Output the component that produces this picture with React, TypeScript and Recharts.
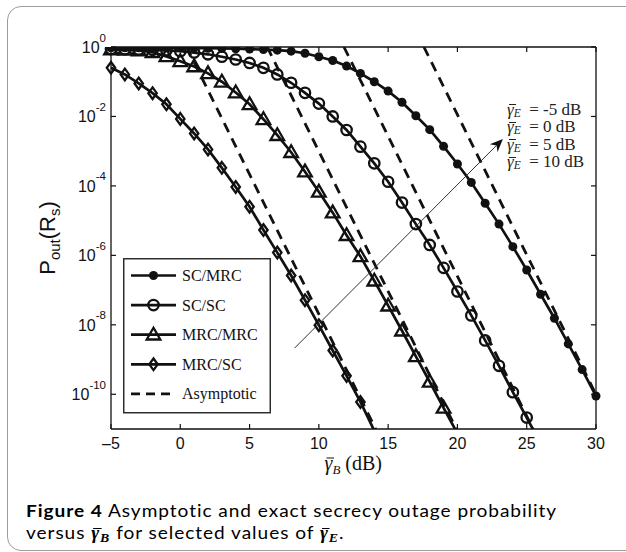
import React from 'react';
import { LineChart, Line, XAxis, YAxis, ReferenceLine, Legend } from 'recharts';

// average SNR of Bob, one exact-curve marker per dB
const snrDb = [-5, -4, -3, -2, -1, 0, 1, 2, 3, 4, 5, 6, 7, 8, 9, 10, 11, 12, 13, 14, 15, 16, 17, 18, 19, 20, 21, 22, 23, 24, 25, 26, 27, 28, 29, 30];

// log10 of P_out(R_s) (null = curve already left the axes)
const scMrcLog = [-0.02, -0.02, -0.02, -0.02, -0.02, -0.025, -0.03, -0.035, -0.04, -0.05, -0.06, -0.075, -0.09, -0.12, -0.18, -0.28, -0.39, -0.55, -0.76, -1.0, -1.27, -1.59, -1.98, -2.38, -2.86, -3.37, -3.9, -4.5, -5.1, -5.75, -6.42, -7.12, -7.81, -8.55, -9.29, -10.05];
const scScLog = [-0.06, -0.065, -0.07, -0.08, -0.095, -0.12, -0.16, -0.21, -0.28, -0.36, -0.46, -0.6, -0.79, -1.03, -1.32, -1.63, -2.0, -2.39, -2.87, -3.35, -3.88, -4.48, -5.1, -5.7, -6.36, -7.04, -7.73, -8.45, -9.18, -9.94, -10.67, -11.42, null, null, null, null];
const mrcMrcLog = [-0.07, -0.08, -0.1, -0.15, -0.27, -0.41, -0.56, -0.76, -1.0, -1.31, -1.65, -2.08, -2.54, -3.03, -3.59, -4.17, -4.77, -5.42, -6.03, -6.73, -7.45, -8.17, -8.91, -9.64, -10.39, -11.13, null, null, null, null, null, null, null, null, null, null];
const mrcScLog = [-0.6, -0.79, -1.05, -1.33, -1.65, -2.07, -2.49, -2.95, -3.48, -4.03, -4.6, -5.27, -5.92, -6.58, -7.29, -8.01, -8.74, -9.47, -10.22, -11.05, null, null, null, null, null, null, null, null, null, null, null, null, null, null, null, null];

// dashed asymptotes: end points (dB, log10 P), same order as the schemes
const asymSnr = [[17.58, 30], [11.81, 25.46], [6.27, 19.92], [0.45, 14.1]];
const asymLog = [[0, -10.01], [0, -11], [0, -11], [0, -11]];

const schemeNames = ['SC/MRC', 'SC/SC', 'MRC/MRC', 'MRC/SC'];
const schemeKeys = ['scMrc', 'scSc', 'mrcMrc', 'mrcSc'];
const schemeMarkers = ['dot', 'circle', 'triangle', 'diamond'];
const asymName = 'Asymptotic';

const eveSnrDb = ['-5', '0', '5', '10'];
// thin arrow across the curves: tail and head (dB, log10 P)
const arrowSnr = [8.25, 23.28];
const arrowLog = [-8.67, -2.65];

const xTicks = [-5, 0, 5, 10, 15, 20, 25, 30];
const yTicks = [1, 1e-2, 1e-4, 1e-6, 1e-8, 1e-10];
const X_MIN = -5;
const X_MAX = 30;
const Y_MIN = 1e-11;
const Y_MAX = 1;

const toP = (v: number | null) => (v == null ? null : Math.pow(10, v));

const rows = snrDb.map((x, i) => ({
  x,
  scMrc: toP(scMrcLog[i]),
  scSc: toP(scScLog[i]),
  mrcMrc: toP(mrcMrcLog[i]),
  mrcSc: toP(mrcScLog[i]),
}));

const asymRows = asymSnr.map((xs, i) => xs.map((x, j) => ({ x, p: toP(asymLog[i][j]) })));

// chart box: plot area ends up at x 111..596, y 47..429
const CHART_W = 626;
const CHART_H = 552;
const MARGIN = { top: 47, right: 30, bottom: 122, left: 110 };
const PLOT_W = CHART_W - MARGIN.left - MARGIN.right - 1;
const PLOT_H = CHART_H - MARGIN.top - MARGIN.bottom - 1;

const INK = '#111';
const SANS = '"Liberation Sans", Arial, sans-serif';
const SERIF = '"Liberation Serif", "Times New Roman", serif';

const Marker = ({ kind, cx, cy }: { kind: string; cx: number; cy: number }) => {
  if (kind === 'dot') return <circle cx={cx} cy={cy} r={4.5} fill={INK} />;
  if (kind === 'circle')
    return <circle cx={cx} cy={cy} r={5.2} fill="none" stroke={INK} strokeWidth={2.3} />;
  if (kind === 'triangle')
    return (
      <path
        d={`M${cx},${cy - 7} L${cx + 6.8},${cy + 4.8} L${cx - 6.8},${cy + 4.8} Z`}
        fill="none"
        stroke={INK}
        strokeWidth={2.3}
      />
    );
  return (
    <path
      d={`M${cx},${cy - 5.8} L${cx + 4.2},${cy} L${cx},${cy + 5.8} L${cx - 4.2},${cy} Z`}
      fill="none"
      stroke={INK}
      strokeWidth={2.3}
    />
  );
};

const makeDot = (kind: string) => (p: any) => {
  const k = `${kind}-${p.index}`;
  if (p.cx == null || p.cy == null || p.value == null || p.value < Y_MIN) return <g key={k} />;
  return <Marker key={k} kind={kind} cx={p.cx} cy={p.cy} />;
};

// bottom tick with its label, plus the matching inward tick on the top edge
const BottomTick = ({ x, y, payload }: any) => {
  const v = payload.value;
  return (
    <g>
      <line x1={x} y1={y} x2={x} y2={y - 5} stroke={INK} strokeWidth={1.2} />
      <line x1={x} y1={y - PLOT_H} x2={x} y2={y - PLOT_H + 5} stroke={INK} strokeWidth={1.2} />
      <text x={x} y={y + 20} textAnchor="middle" fontSize={16} fontFamily={SANS} fill={INK}>
        {v < 0 ? `\u2013${-v}` : v}
      </text>
    </g>
  );
};

// left tick with its 10^n label, plus the matching inward tick on the right edge
const LeftTick = ({ x, y, payload }: any) => {
  const exp = Math.round(Math.log10(payload.value));
  return (
    <g>
      <line x1={x} y1={y} x2={x + 5} y2={y} stroke={INK} strokeWidth={1.2} />
      <line x1={x + PLOT_W} y1={y} x2={x + PLOT_W - 5} y2={y} stroke={INK} strokeWidth={1.2} />
      <text x={x - 5} y={y + 6} textAnchor="end" fontSize={16} fontFamily={SANS} fill={INK}>
        10
        <tspan dy={-11.5} fontSize={11.5}>
          {exp}
        </tspan>
      </text>
    </g>
  );
};

const YLabel = ({ viewBox }: any) => {
  const x = viewBox.x + viewBox.width - 56;
  const y = viewBox.y + viewBox.height / 2;
  return (
    <text x={x} y={y} transform={`rotate(-90, ${x}, ${y})`} textAnchor="middle" fontSize={22} fontFamily={SANS} fill={INK}>
      P
      <tspan dy={5} fontSize={15}>out</tspan>
      <tspan dy={-5}>(R</tspan>
      <tspan dy={5} fontSize={15}>s</tspan>
      <tspan dy={-5}>)</tspan>
    </text>
  );
};

const XLabel = ({ viewBox }: any) => {
  const x0 = viewBox.x + viewBox.width / 2 - 29;
  const y = viewBox.y + 41;
  return (
    <g>
      <text x={x0} y={y} fontSize={20} fontFamily={SERIF} fill={INK}>
        <tspan fontStyle="italic">{'\u03b3'}</tspan>
        <tspan dy={4} fontSize={13} fontStyle="italic">B</tspan>
        <tspan dy={-4}> (dB)</tspan>
      </text>
      <line x1={x0 + 2} y1={y - 12} x2={x0 + 9.5} y2={y - 12} stroke={INK} strokeWidth={1} />
    </g>
  );
};

const ArrowShape = (props: any) => {
  const { x1, y1, x2, y2 } = props;
  const a = Math.atan2(y2 - y1, x2 - x1);
  const ux = Math.cos(a);
  const uy = Math.sin(a);
  const L = 13;
  const W = 5.5;
  const N = 4;
  const bx = x2 - L * ux;
  const by = y2 - L * uy;
  const head = `${x2},${y2} ${bx - W * uy},${by + W * ux} ${x2 - (L - N) * ux},${y2 - (L - N) * uy} ${bx + W * uy},${by - W * ux}`;
  return (
    <g>
      <line x1={x1} y1={y1} x2={x2 - (L - N) * ux} y2={y2 - (L - N) * uy} stroke="#333" strokeWidth={1} />
      <polygon points={head} fill={INK} />
    </g>
  );
};

const LegendBox = () => {
  const entries = [...schemeNames, asymName];
  return (
    <svg width={148} height={156}>
      <rect x={0.75} y={0.75} width={146.5} height={154} fill="#fff" stroke="#222" strokeWidth={1.4} />
      {entries.map((name, i) => {
        const cy = 17.5 + i * 29.6;
        const dashed = i === entries.length - 1;
        return (
          <g key={name}>
            <line
              x1={8}
              y1={cy}
              x2={53}
              y2={cy}
              stroke={INK}
              strokeWidth={2.7}
              strokeDasharray={dashed ? '9 6' : undefined}
            />
            {!dashed && <Marker kind={schemeMarkers[i]} cx={30.5} cy={cy} />}
            <text x={59} y={cy + 5.5} fontSize={16} fontFamily={SERIF} fill={INK}>
              {name}
            </text>
          </g>
        );
      })}
    </svg>
  );
};

const GammaBar = ({ bold }: { bold?: boolean }) => (
  <span style={{ position: 'relative', display: 'inline-block', lineHeight: 1, fontStyle: 'italic' }}>
    {'\u03b3'}
    <span
      style={{
        position: 'absolute',
        left: '0.1em',
        width: '0.42em',
        top: '0.2em',
        borderTop: `${bold ? 1.8 : 1}px solid currentColor`,
      }}
    />
  </span>
);

export default function App() {
  return (
    <div style={{ position: 'relative', width: CHART_W, height: CHART_H, overflow: 'hidden', background: '#fff' }}>
      <style>{'body{margin:0}'}</style>
      <div
        style={{
          position: 'absolute',
          left: 7,
          top: 6,
          width: 640,
          height: 545,
          border: '1.5px solid #9c9c9c',
          borderRadius: 14,
          boxSizing: 'border-box',
        }}
      />
      <div style={{ position: 'absolute', left: 0, top: 0 }}>
        <LineChart width={CHART_W} height={CHART_H} data={rows} margin={MARGIN}>
          <XAxis
            dataKey="x"
            type="number"
            domain={[X_MIN, X_MAX]}
            ticks={xTicks}
            interval={0}
            height={1}
            tickSize={0}
            tickMargin={0}
            tickLine={false}
            tick={<BottomTick />}
            axisLine={{ stroke: INK, strokeWidth: 1.3 }}
            label={XLabel}
          />
          <YAxis
            type="number"
            scale="log"
            domain={[Y_MIN, Y_MAX]}
            allowDataOverflow
            ticks={yTicks}
            interval={0}
            width={1}
            tickSize={0}
            tickMargin={0}
            tickLine={false}
            tick={<LeftTick />}
            axisLine={{ stroke: INK, strokeWidth: 1.3 }}
            label={YLabel}
          />
          {/* box edges on top and right */}
          <ReferenceLine y={Y_MAX} stroke={INK} strokeWidth={1.3} />
          <ReferenceLine x={X_MAX} stroke={INK} strokeWidth={1.3} />
          {asymRows.map((d, i) => (
            <Line
              key={`asym-${i}`}
              data={d}
              dataKey="p"
              type="linear"
              stroke={INK}
              strokeWidth={2.8}
              strokeDasharray="10 7"
              dot={false}
              activeDot={false}
              isAnimationActive={false}
            />
          ))}
          {schemeKeys.map((k, i) => (
            <Line
              key={k}
              dataKey={k}
              name={schemeNames[i]}
              type="linear"
              stroke={INK}
              strokeWidth={2.7}
              dot={makeDot(schemeMarkers[i])}
              activeDot={false}
              isAnimationActive={false}
            />
          ))}
          <ReferenceLine
            segment={[
              { x: arrowSnr[0], y: toP(arrowLog[0]) },
              { x: arrowSnr[1], y: toP(arrowLog[1]) },
            ]}
            ifOverflow="visible"
            shape={ArrowShape}
          />
          <Legend
            layout="vertical"
            align="center"
            verticalAlign="middle"
            content={LegendBox}
            wrapperStyle={{ left: 123, top: 258, width: 148, height: 156 }}
          />
        </LineChart>
      </div>
      <div
        style={{
          position: 'absolute',
          left: 507,
          top: 101,
          fontFamily: SERIF,
          fontSize: 17,
          color: '#222',
          whiteSpace: 'pre',
        }}
      >
        {eveSnrDb.map((v) => (
          <div key={v} style={{ height: 17.4, lineHeight: '17.4px' }}>
            <GammaBar />
            <sub style={{ fontStyle: 'italic', fontSize: 11.5, lineHeight: 0, verticalAlign: '-2px' }}>E</sub>
            {`  = ${v} dB`}
          </div>
        ))}
      </div>
      <div
        style={{
          position: 'absolute',
          left: 26,
          top: 500,
          fontFamily: 'Lato, "Open Sans", sans-serif',
          fontSize: 17.9,
          letterSpacing: 0.9,
          lineHeight: '21.5px',
          color: '#000',
          whiteSpace: 'nowrap',
          transform: 'scaleX(1.065)',
          transformOrigin: '0 0',
        }}
      >
        <div>
          <b>Figure 4</b> Asymptotic and exact secrecy outage probability
        </div>
        <div>
          versus{' '}
          <b style={{ fontFamily: SERIF, fontStyle: 'italic' }}>
            <GammaBar bold />
            <sub style={{ fontSize: 13, lineHeight: 0, verticalAlign: '-3px' }}>B</sub>
          </b>{' '}
          for selected values of{' '}
          <b style={{ fontFamily: SERIF, fontStyle: 'italic' }}>
            <GammaBar bold />
            <sub style={{ fontSize: 13, lineHeight: 0, verticalAlign: '-3px' }}>E</sub>
          </b>
          .
        </div>
      </div>
    </div>
  );
}
